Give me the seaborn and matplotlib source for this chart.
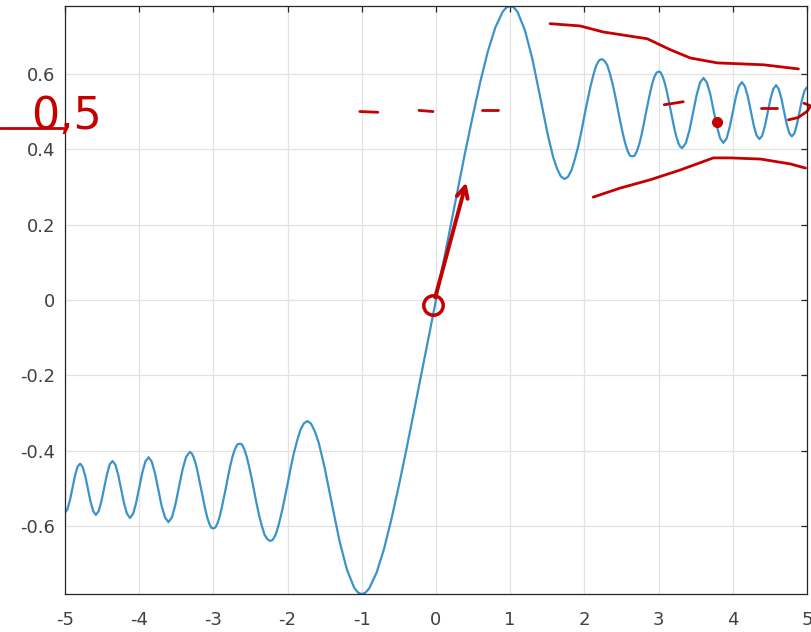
import matplotlib
matplotlib.use("Agg")
import matplotlib.pyplot as plt
import pandas as pd
import seaborn as sns

# curve, left half (x < 0)
x_left = [-5.0, -4.967, -4.933, -4.899, -4.865, -4.830, -4.796,
          -4.761, -4.726, -4.690, -4.655, -4.619, -4.583, -4.546, -4.509, -4.472, -4.435,
          -4.397, -4.359, -4.320, -4.282, -4.243, -4.203, -4.163, -4.123, -4.082, -4.041,
          -4.0, -3.958, -3.916, -3.873, -3.830, -3.786, -3.742, -3.697, -3.651, -3.606,
          -3.559, -3.512, -3.464, -3.416, -3.367, -3.317, -3.266, -3.215, -3.162, -3.109,
          -3.055, -3.0, -2.944, -2.887, -2.828, -2.769, -2.708, -2.646, -2.582, -2.517,
          -2.449, -2.380, -2.309, -2.236, -2.160, -2.082, -2.0, -1.915, -1.826, -1.732,
          -1.633, -1.528, -1.5, -1.4, -1.3, -1.2, -1.1, -1.05, -1.0, -0.95,
          -0.9, -0.8, -0.7, -0.6, -0.5, -0.4, -0.3, -0.2, -0.1]
y_left = [-0.564, -0.555, -0.531, -0.499, -0.466, -0.442, -0.434,
          -0.443, -0.467, -0.501, -0.535, -0.560, -0.570, -0.560, -0.534, -0.499, -0.463,
          -0.436, -0.427, -0.437, -0.464, -0.502, -0.540, -0.567, -0.578, -0.567, -0.538,
          -0.498, -0.458, -0.428, -0.417, -0.429, -0.460, -0.502, -0.546, -0.577, -0.589,
          -0.577, -0.543, -0.497, -0.450, -0.416, -0.403, -0.417, -0.453, -0.504, -0.555,
          -0.593, -0.606, -0.592, -0.551, -0.495, -0.437, -0.395, -0.381, -0.396, -0.443,
          -0.508, -0.574, -0.623, -0.639, -0.622, -0.566, -0.488, -0.406, -0.344, -0.321,
          -0.348, -0.421, -0.445, -0.543, -0.639, -0.715, -0.764, -0.776, -0.780, -0.776,
          -0.765, -0.723, -0.660, -0.581, -0.492, -0.398, -0.299, -0.200, -0.100]
# extra points on the wide wiggles (left)
x_left_fine = [-3.291, -3.240, -3.189, -3.136, -3.082, -3.028, -2.972, -2.916, -2.858,
               -2.799, -2.739, -2.677, -2.614, -2.550, -2.483, -2.415, -2.345, -2.273,
               -2.199, -2.121, -2.041, -1.958, -1.871, -1.780, -1.683, -1.581]
y_left_fine = [-0.407, -0.433, -0.478, -0.530, -0.577, -0.604, -0.603, -0.575, -0.524,
               -0.465, -0.413, -0.383, -0.383, -0.416, -0.474, -0.542, -0.600, -0.634,
               -0.636, -0.597, -0.528, -0.445, -0.373, -0.327, -0.328, -0.378]

# right half (x >= 0)
x_right = [0.0, 0.1, 0.2, 0.3, 0.4, 0.5, 0.6, 0.7, 0.8, 0.9,
           0.95, 1.0, 1.05, 1.1, 1.2, 1.3, 1.4, 1.5, 1.528, 1.633,
           1.732, 1.826, 1.915, 2.0, 2.082, 2.160, 2.236, 2.309, 2.380, 2.449,
           2.517, 2.582, 2.646, 2.708, 2.769, 2.828, 2.887, 2.944, 3.0, 3.055,
           3.109, 3.162, 3.215, 3.266, 3.317, 3.367, 3.416, 3.464, 3.512, 3.559,
           3.606, 3.651, 3.697, 3.742, 3.786, 3.830, 3.873, 3.916, 3.958, 4.0,
           4.041, 4.082, 4.123, 4.163, 4.203, 4.243, 4.282, 4.320, 4.359, 4.397,
           4.435, 4.472, 4.509, 4.546, 4.583, 4.619, 4.655, 4.690, 4.726, 4.761,
           4.796, 4.830, 4.865, 4.899, 4.933, 4.967, 5.0]
y_right = [0.000, 0.100, 0.200, 0.299, 0.398, 0.492, 0.581, 0.660, 0.723, 0.765,
           0.776, 0.780, 0.776, 0.764, 0.715, 0.639, 0.543, 0.445, 0.421, 0.348,
           0.321, 0.344, 0.406, 0.488, 0.566, 0.622, 0.639, 0.623, 0.574, 0.508,
           0.443, 0.396, 0.381, 0.395, 0.437, 0.495, 0.551, 0.592, 0.606, 0.593,
           0.555, 0.504, 0.453, 0.417, 0.403, 0.416, 0.450, 0.497, 0.543, 0.577,
           0.589, 0.577, 0.546, 0.502, 0.460, 0.429, 0.417, 0.428, 0.458, 0.498,
           0.538, 0.567, 0.578, 0.567, 0.540, 0.502, 0.464, 0.437, 0.427, 0.436,
           0.463, 0.499, 0.534, 0.560, 0.570, 0.560, 0.535, 0.501, 0.467, 0.443,
           0.434, 0.442, 0.466, 0.499, 0.531, 0.555, 0.564]
# extra points on the wide wiggles (right)
x_right_fine = [1.581, 1.683, 1.780, 1.871, 1.958, 2.041, 2.121, 2.199, 2.273,
                2.345, 2.415, 2.483, 2.550, 2.614, 2.677, 2.739, 2.799, 2.858,
                2.916, 2.972, 3.028, 3.082, 3.136, 3.189, 3.240, 3.291]
y_right_fine = [0.378, 0.328, 0.327, 0.373, 0.445, 0.528, 0.597, 0.636, 0.634,
                0.600, 0.542, 0.474, 0.416, 0.383, 0.383, 0.413, 0.465, 0.524,
                0.575, 0.603, 0.604, 0.577, 0.530, 0.478, 0.433, 0.407]

x_ticks = [-5, -4, -3, -2, -1, 0, 1, 2, 3, 4, 5]
y_ticks = [-0.6, -0.4, -0.2, 0, 0.2, 0.4, 0.6]
y_ticklabels = ["-0.6", "-0.4", "-0.2", "0", "0.2", "0.4", "0.6"]

# red hand drawn marks
upper_env_x = [1.538, 1.943, 2.254, 2.848, 3.158, 3.428, 3.792, 4.413, 4.885]
upper_env_y = [0.733, 0.727, 0.711, 0.693, 0.664, 0.642, 0.629, 0.624, 0.613]
lower_env_x = [2.119, 2.483, 2.888, 3.293, 3.738, 3.968, 4.372, 4.777, 4.980]
lower_env_y = [0.273, 0.297, 0.319, 0.345, 0.377, 0.377, 0.374, 0.361, 0.350]
dash_segments = [((-1.026, 0.500), (-0.783, 0.498)),
                 ((-0.229, 0.503), (-0.040, 0.500)),
                 ((0.621, 0.505), (0.837, 0.505)),
                 ((3.077, 0.518), (3.333, 0.526)),
                 ((4.386, 0.510), (4.602, 0.510))]
hook_x = [4.75, 4.88, 5.00, 5.05, 4.96]
hook_y = [0.478, 0.484, 0.500, 0.515, 0.522]

sns.set_theme(style="whitegrid")
plt.rcParams['font.family'] = ['DejaVu Sans']
plt.rcParams['axes.unicode_minus'] = False

df = pd.DataFrame({"x": x_left + x_left_fine + x_right + x_right_fine,
                   "y": y_left + y_left_fine + y_right + y_right_fine})

fig = plt.figure(figsize=(8.12, 6.32), dpi=100)
ax = fig.add_axes([0.080, 0.060, 0.9138, 0.9305])
ax.set_facecolor("white")

sns.lineplot(data=df, x="x", y="y", ax=ax, color="#3a93cb", linewidth=1.6,
             estimator=None)

ax.set_xlim(-5, 5)
ax.set_ylim(-0.7799, 0.7799)
ax.set_xticks(x_ticks)
ax.set_xticklabels([str(t) for t in x_ticks])
ax.set_yticks(y_ticks)
ax.set_yticklabels(y_ticklabels)
ax.set_xlabel("")
ax.set_ylabel("")
ax.grid(True, color="#e2e2e2", linewidth=0.9)
for s in ax.spines.values():
    s.set_visible(True)
    s.set_color("#262626")
    s.set_linewidth(0.9)
ax.tick_params(direction="in", length=4, width=0.9, top=True, right=True,
               color="#262626", labelcolor="#404040", labelsize=13)
ax.tick_params(axis="x", pad=12)
ax.tick_params(axis="y", pad=7)

red = "#c40000"
ax.plot(upper_env_x, upper_env_y, color=red, lw=2.0)
ax.plot(lower_env_x, lower_env_y, color=red, lw=2.0)
for (a, b) in dash_segments:
    ax.plot([a[0], b[0]], [a[1], b[1]], color=red, lw=2.0)
ax.plot(hook_x, hook_y, color=red, lw=2.0, clip_on=False)
ax.plot([3.79], [0.473], "o", color=red, markersize=7)
ax.plot([-0.04], [-0.013], "o", mfc="none", mec=red, mew=2.5, markersize=14)
ax.annotate("", xy=(0.418, 0.319), xytext=(-0.02, 0.0),
            arrowprops=dict(arrowstyle="->", color=red, lw=2.8, mutation_scale=20))
ax.plot([-5.88, -5.03], [0.457, 0.457], color=red, lw=2.0, clip_on=False)
ax.text(-5.46, 0.488, "0,5", color=red, fontsize=32, family="DejaVu Sans",
        ha="left", va="center", clip_on=False)

fig.savefig("out.png", dpi=100)
